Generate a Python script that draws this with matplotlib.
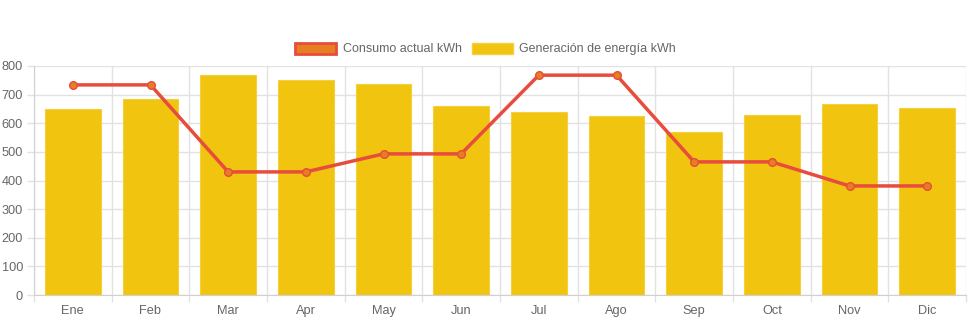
import matplotlib.pyplot as plt
import numpy as np
from matplotlib.patches import Patch

months = ["Ene", "Feb", "Mar", "Apr", "May", "Jun", "Jul", "Ago", "Sep", "Oct", "Nov", "Dic"]
generacion = [650, 685, 768, 751, 737, 660, 639, 625, 569, 629, 667, 653]
consumo = [734, 734, 430, 430, 493, 493, 768, 768, 465, 465, 381, 381]

plt.rcParams["font.family"] = ["Liberation Sans", "DejaVu Sans"]

fig = plt.figure(figsize=(9.71, 3.23), dpi=100)
ax = fig.add_axes([34 / 971, 1 - 295 / 323, (966 - 34) / 971, (295 - 66) / 323])

x = np.arange(len(months))
ax.bar(x, generacion, width=0.72, color="#F1C40F", edgecolor="#F4D03F", linewidth=0.8, zorder=2)
ax.plot(x, consumo, color="#E74C3C", linewidth=2.5, marker="o", markersize=5.5,
        markerfacecolor="#E67E22", markeredgecolor="#E74C3C", markeredgewidth=1, zorder=3)

ax.set_xlim(-0.5, len(months) - 0.5)
ax.set_ylim(0, 800)
ax.set_yticks(range(0, 801, 100))
ax.set_xticks(x)
ax.set_xticklabels(months)
ax.set_xticks(np.arange(-0.5, len(months)), minor=True)

grid_c = "#e2e2e2"
ax.grid(True, axis="y", color=grid_c, linewidth=1, zorder=0)
ax.grid(True, axis="x", which="minor", color=grid_c, linewidth=1, zorder=0)
ax.set_axisbelow(True)
ax.tick_params(axis="x", which="major", length=0, pad=7, labelsize=9.2, labelcolor="#666666")
ax.tick_params(axis="x", which="minor", length=5, color=grid_c, width=1)
ax.tick_params(axis="y", length=5, color=grid_c, width=1, pad=3, labelsize=9.2, labelcolor="#666666")

for s in ["top", "right"]:
    ax.spines[s].set_visible(False)
ax.spines["left"].set_color("#d0d0d0")
ax.spines["bottom"].set_color("#d0d0d0")

handles = [
    Patch(facecolor="#E67E22", edgecolor="#E74C3C", linewidth=2, label="Consumo actual kWh"),
    Patch(facecolor="#F1C40F", edgecolor="#F4D03F", linewidth=1, label="Generación de energía kWh"),
]
fig.legend(handles=handles, loc="center", bbox_to_anchor=(0.5, 1 - 49 / 323), ncol=2,
           frameon=False, fontsize=9, labelcolor="#666666", handlelength=3.3, handleheight=1.0,
           handletextpad=0.5, columnspacing=0.8)

fig.savefig("out.png", dpi=100)
